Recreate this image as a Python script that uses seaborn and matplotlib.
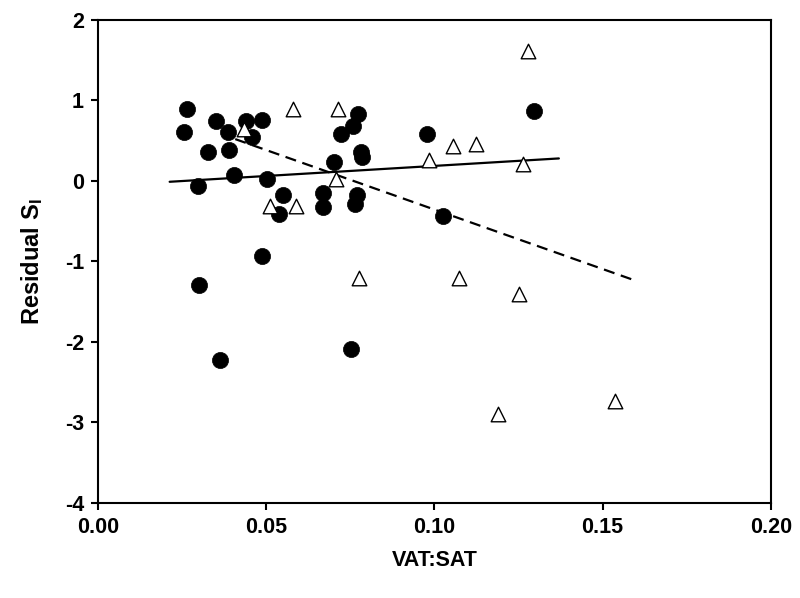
import matplotlib
matplotlib.use("Agg")
import matplotlib.pyplot as plt
import seaborn as sns
import pandas as pd
import numpy as np

# Filled circles
circle_x = [0.0264, 0.0257, 0.0296, 0.0300, 0.0328, 0.0351, 0.0363, 0.0385, 0.0390, 0.0405,
            0.0440, 0.0457, 0.0487, 0.0488, 0.0501, 0.0539, 0.0549, 0.0668, 0.0670, 0.0702,
            0.0721, 0.0753, 0.0757, 0.0769, 0.0764, 0.0774, 0.0782, 0.0784, 0.0979, 0.1026,
            0.1296]
circle_y = [0.89, 0.61, -0.06, -1.29, 0.36, 0.74, -2.22, 0.61, 0.39, 0.08,
            0.74, 0.55, 0.76, -0.93, 0.03, -0.41, -0.17, -0.15, -0.32, 0.24,
            0.58, -2.09, 0.68, -0.17, -0.29, 0.83, 0.36, 0.30, 0.58, -0.44,
            0.87]

# Open triangles
tri_x = [0.0579, 0.0434, 0.0511, 0.0588, 0.0712, 0.0707, 0.0776, 0.0985, 0.1056, 0.1125,
         0.1262, 0.1279, 0.1074, 0.1251, 0.1190, 0.1538]
tri_y = [0.89, 0.64, -0.31, -0.31, 0.90, 0.03, -1.20, 0.26, 0.44, 0.46,
         0.21, 1.61, -1.21, -1.41, -2.90, -2.73]

# Regression lines (endpoints)
fit_solid_x = [0.0213, 0.1370]
fit_solid_y = [-0.01, 0.28]
fit_dash_x = [0.0408, 0.1599]
fit_dash_y = [0.52, -1.24]

x_ticks = [0.00, 0.05, 0.10, 0.15, 0.20]
y_ticks = [-4, -3, -2, -1, 0, 1, 2]

sns.set_style("white")
plt.rcParams['font.family'] = ['Liberation Sans', 'DejaVu Sans']
plt.rcParams['mathtext.fontset'] = 'custom'
plt.rcParams['mathtext.rm'] = 'Liberation Sans:bold'
plt.rcParams['mathtext.default'] = 'rm'
plt.rcParams['text.color'] = 'black'
plt.rcParams['axes.labelcolor'] = 'black'
plt.rcParams['xtick.color'] = 'black'
plt.rcParams['ytick.color'] = 'black'

fig = plt.figure(figsize=(8, 5.98), dpi=100)
ax = fig.add_axes([0.1225, 0.1589, 0.841, 0.8077])

df_c = pd.DataFrame({"x": circle_x, "y": circle_y})
df_t = pd.DataFrame({"x": tri_x, "y": tri_y})
df_s = pd.DataFrame({"x": fit_solid_x, "y": fit_solid_y})
df_d = pd.DataFrame({"x": fit_dash_x, "y": fit_dash_y})

sns.lineplot(data=df_s, x="x", y="y", ax=ax, color="black", lw=1.6, zorder=2)
sns.lineplot(data=df_d, x="x", y="y", ax=ax, color="black", lw=1.6, zorder=2)
ax.lines[-1].set_dashes((5, 3))

sns.scatterplot(data=df_c, x="x", y="y", ax=ax, marker="o", s=135,
                color="black", edgecolor="black", linewidth=0.5, zorder=3)
sns.scatterplot(data=df_t, x="x", y="y", ax=ax, marker="^", s=110,
                facecolor="white", edgecolor="black", linewidth=1.0, zorder=4)

ax.set_xlim(0, 0.20)
ax.set_ylim(-4, 2)
ax.set_xticks(x_ticks)
ax.set_xticklabels([f"{v:.2f}" for v in x_ticks])
ax.set_yticks(y_ticks)
ax.set_yticklabels([str(v) for v in y_ticks])

for sp in ax.spines.values():
    sp.set_visible(True)
    sp.set_color("black")
    sp.set_linewidth(1.5)

ax.tick_params(axis="both", direction="out", length=5, width=1.5, colors="black",
               labelcolor="black", labelsize=15.5, pad=5, bottom=True, left=True)
for lab in ax.get_xticklabels() + ax.get_yticklabels():
    lab.set_fontweight("bold")

ax.set_xlabel("VAT:SAT", fontsize=15.5, fontweight="bold", labelpad=9, color="black")
ax.set_ylabel("Residual S$_\\mathrm{I}$", fontsize=17, fontweight="bold", labelpad=14,
              color="black")

fig.savefig("out.png", dpi=100)
